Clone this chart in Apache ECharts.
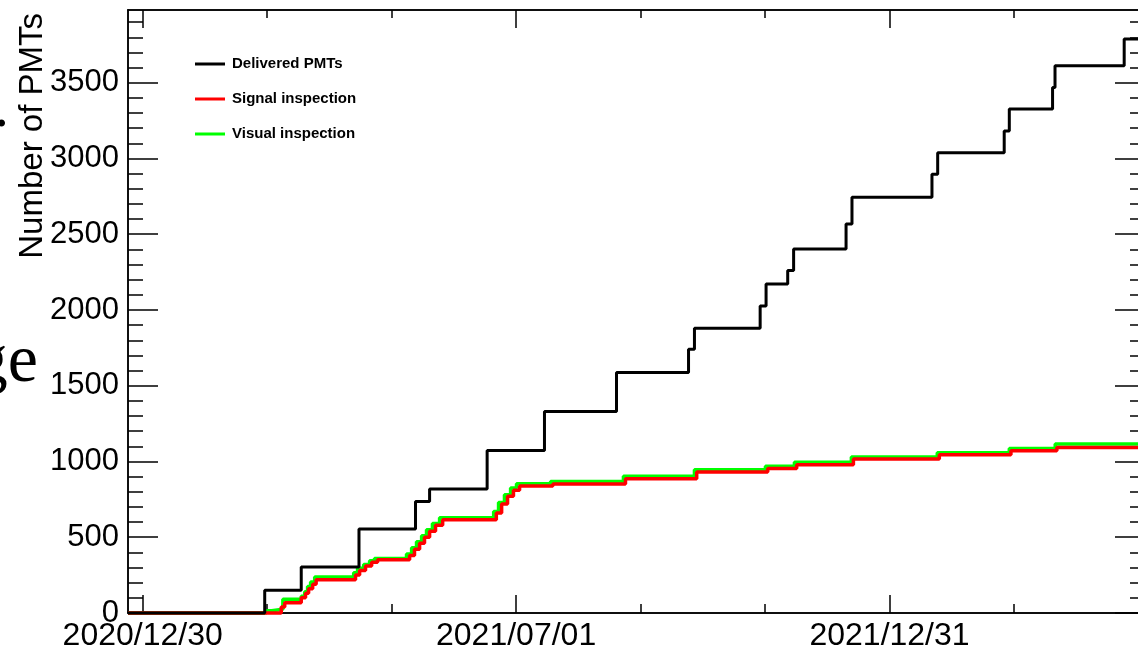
<!DOCTYPE html>
<html>
<head>
<meta charset="utf-8">
<script src="https://cdn.jsdelivr.net/npm/echarts@6/dist/echarts.min.js"></script>
<style>
html,body{margin:0;padding:0;background:#fff;}
#chart{width:1138px;height:650px;}
</style>
</head>
<body>
<div id="chart"></div>
<script>
// x values are days since 2020/12/30
const xMinDay = -7.2;
const xMaxDay = 491.2;
const xTickDays = [0, 61, 122, 183, 244, 305, 366, 427, 488];
const xLabelDays = [0, 183, 366];
const xTickLabels = ['2020/12/30', '2021/07/01', '2021/12/31'];
const yMajorTicks = [0, 500, 1000, 1500, 2000, 2500, 3000, 3500];
const yMinorTicks = [0,100,200,300,400,500,600,700,800,900,1000,1100,1200,1300,1400,1500,1600,1700,1800,1900,2000,2100,2200,2300,2400,2500,2600,2700,2800,2900,3000,3100,3200,3300,3400,3500,3600,3700,3800,3900];
const yMax = 3980;

const seriesNames = ['Delivered PMTs', 'Signal inspection', 'Visual inspection'];

const deliveredDays   = [-7.2, 59.8, 77.7, 106, 133.7, 140.6, 168.8, 196.9, 232.2, 267.5, 270.4, 302.6, 305.5, 316.1, 319, 344.7, 347.6, 386.8, 389.6, 422.2, 424.7, 445.9, 447.1, 481, 491.2];
const deliveredValues = [0, 150, 303, 554, 736, 818, 1073, 1330, 1587, 1741, 1880, 2027, 2172, 2260, 2403, 2568, 2744, 2896, 3038, 3181, 3327, 3469, 3612, 3788, 3788];

const signalDays   = [-7.2, 67.9, 69.6, 77.7, 79.8, 81.3, 83.3, 85, 104.3, 106.3, 109.2, 112.2, 115.1, 130.8, 133.2, 135.7, 138.1, 140.6, 143.5, 147, 173.3, 175.9, 178.8, 181.7, 184.7, 201, 236.6, 271.5, 306.3, 320.5, 348.3, 390.4, 425.5, 448, 491.2];
const signalValues = [0, 40, 68, 100, 130, 160, 190, 220, 250, 280, 310, 335, 352, 380, 420, 460, 500, 540, 580, 615, 660, 720, 770, 810, 838, 852, 886, 930, 954, 978, 1016, 1044, 1071, 1092, 1092];

const visualDays   = [-7.2, 60.6, 63.2, 68.7, 77.7, 79.4, 80.8, 82.3, 84.3, 103.4, 105.3, 108.3, 111.2, 113.6, 129.3, 131.8, 134.2, 136.7, 139.1, 142, 145.5, 172, 174.4, 177.3, 180.3, 183.2, 199.9, 235.6, 270.4, 305.2, 319.4, 347.3, 389.4, 424.7, 447.2, 491.2];
const visualValues = [0, 15, 25, 90, 110, 140, 175, 205, 237, 265, 295, 320, 345, 360, 390, 430, 470, 510, 550, 590, 628, 670, 730, 780, 825, 853, 868, 902, 946, 968, 995, 1030, 1058, 1086, 1115, 1115];

function pairs(xs, ys) { return xs.map((x, i) => [x, ys[i]]); }

const FONT = 'Liberation Sans, Helvetica, Arial, sans-serif';
const lineStyleAxis = { color: '#000', width: 1.5 };

const chart = echarts.init(document.getElementById('chart'), null, { renderer: 'canvas' });

function xAxisDef(position, tickVals, len, showLabels) {
  return {
    type: 'value', gridIndex: 0, position: position,
    min: xMinDay, max: xMaxDay,
    axisLine: { show: true, onZero: false, lineStyle: lineStyleAxis },
    axisTick: { show: true, inside: true, length: len, customValues: tickVals, lineStyle: { color: '#000', width: 1.5 } },
    axisLabel: showLabels ? {
      show: true, customValues: xLabelDays, margin: 7,
      fontFamily: FONT, fontSize: 32, color: '#000',
      formatter: v => { const i = xLabelDays.indexOf(Math.round(v)); return i >= 0 ? xTickLabels[i] : ''; }
    } : { show: false },
    splitLine: { show: false }
  };
}
function yAxisDef(position, tickVals, len, showLabels) {
  return {
    type: 'value', gridIndex: 0, position: position,
    min: 0, max: yMax,
    axisLine: { show: true, onZero: false, lineStyle: lineStyleAxis },
    axisTick: { show: true, inside: true, length: len, customValues: tickVals, lineStyle: { color: '#000', width: 1.5 } },
    axisLabel: showLabels ? {
      show: true, customValues: yMajorTicks, margin: 9,
      fontFamily: FONT, fontSize: 31, color: '#000',
      formatter: v => String(Math.round(v))
    } : { show: false },
    splitLine: { show: false }
  };
}

const option = {
  backgroundColor: '#fff',
  animation: false,
  grid: { left: 128, top: 10, width: 1017, bottom: 37, containLabel: false, outerBoundsMode: 'none', show: false },
  xAxis: [
    xAxisDef('bottom', xTickDays, 9, true),
    xAxisDef('bottom', xLabelDays, 18, false),
    xAxisDef('top', xTickDays, 8, false),
    xAxisDef('top', xLabelDays, 18, false)
  ],
  yAxis: [
    yAxisDef('left', yMajorTicks, 30, true),
    yAxisDef('left', yMinorTicks, 15, false),
    yAxisDef('right', yMajorTicks, 30, false),
    yAxisDef('right', yMinorTicks, 15, false)
  ],
  legend: {
    orient: 'vertical', left: 195, top: 56, padding: 0,
    icon: 'rect', itemWidth: 30, itemHeight: 3, itemGap: 19,
    data: seriesNames,
    textStyle: { fontFamily: FONT, fontSize: 15, fontWeight: 'bold', color: '#000', lineHeight: 16, padding: [0, 0, 0, 2] }
  },
  graphic: [
    { type: 'text', x: 33, y: 13, rotation: Math.PI / 2,
      style: { text: 'Number of PMTs', font: '33px ' + FONT, fill: '#000', textAlign: 'right', textVerticalAlign: 'middle' } },
    { type: 'text', x: 38, y: 363,
      style: { text: 'ge', font: '68px "Liberation Serif", "Times New Roman", serif', fill: '#000', textAlign: 'right', textVerticalAlign: 'middle' } },
    { type: 'text', x: -6, y: 110,
      style: { text: '.', font: '60px "Liberation Serif", "Times New Roman", serif', fill: '#000', textAlign: 'left', textVerticalAlign: 'middle' } }
  ],
  series: [
    { name: seriesNames[0], type: 'line', step: 'end', xAxisIndex: 0, yAxisIndex: 0,
      data: pairs(deliveredDays, deliveredValues), showSymbol: false, clip: false, z: 5,
      itemStyle: { color: '#000' }, lineStyle: { color: '#000', width: 3 } },
    { name: seriesNames[1], type: 'line', step: 'end', xAxisIndex: 0, yAxisIndex: 0,
      data: pairs(signalDays, signalValues), showSymbol: false, clip: false, z: 4,
      itemStyle: { color: '#ff0000' }, lineStyle: { color: '#ff0000', width: 3.5 } },
    { name: seriesNames[2], type: 'line', step: 'end', xAxisIndex: 0, yAxisIndex: 0,
      data: pairs(visualDays, visualValues), showSymbol: false, clip: false, z: 3,
      itemStyle: { color: '#00ff00' }, lineStyle: { color: '#00ff00', width: 3.5 } }
  ]
};
chart.setOption(option);
</script>
</body>
</html>
